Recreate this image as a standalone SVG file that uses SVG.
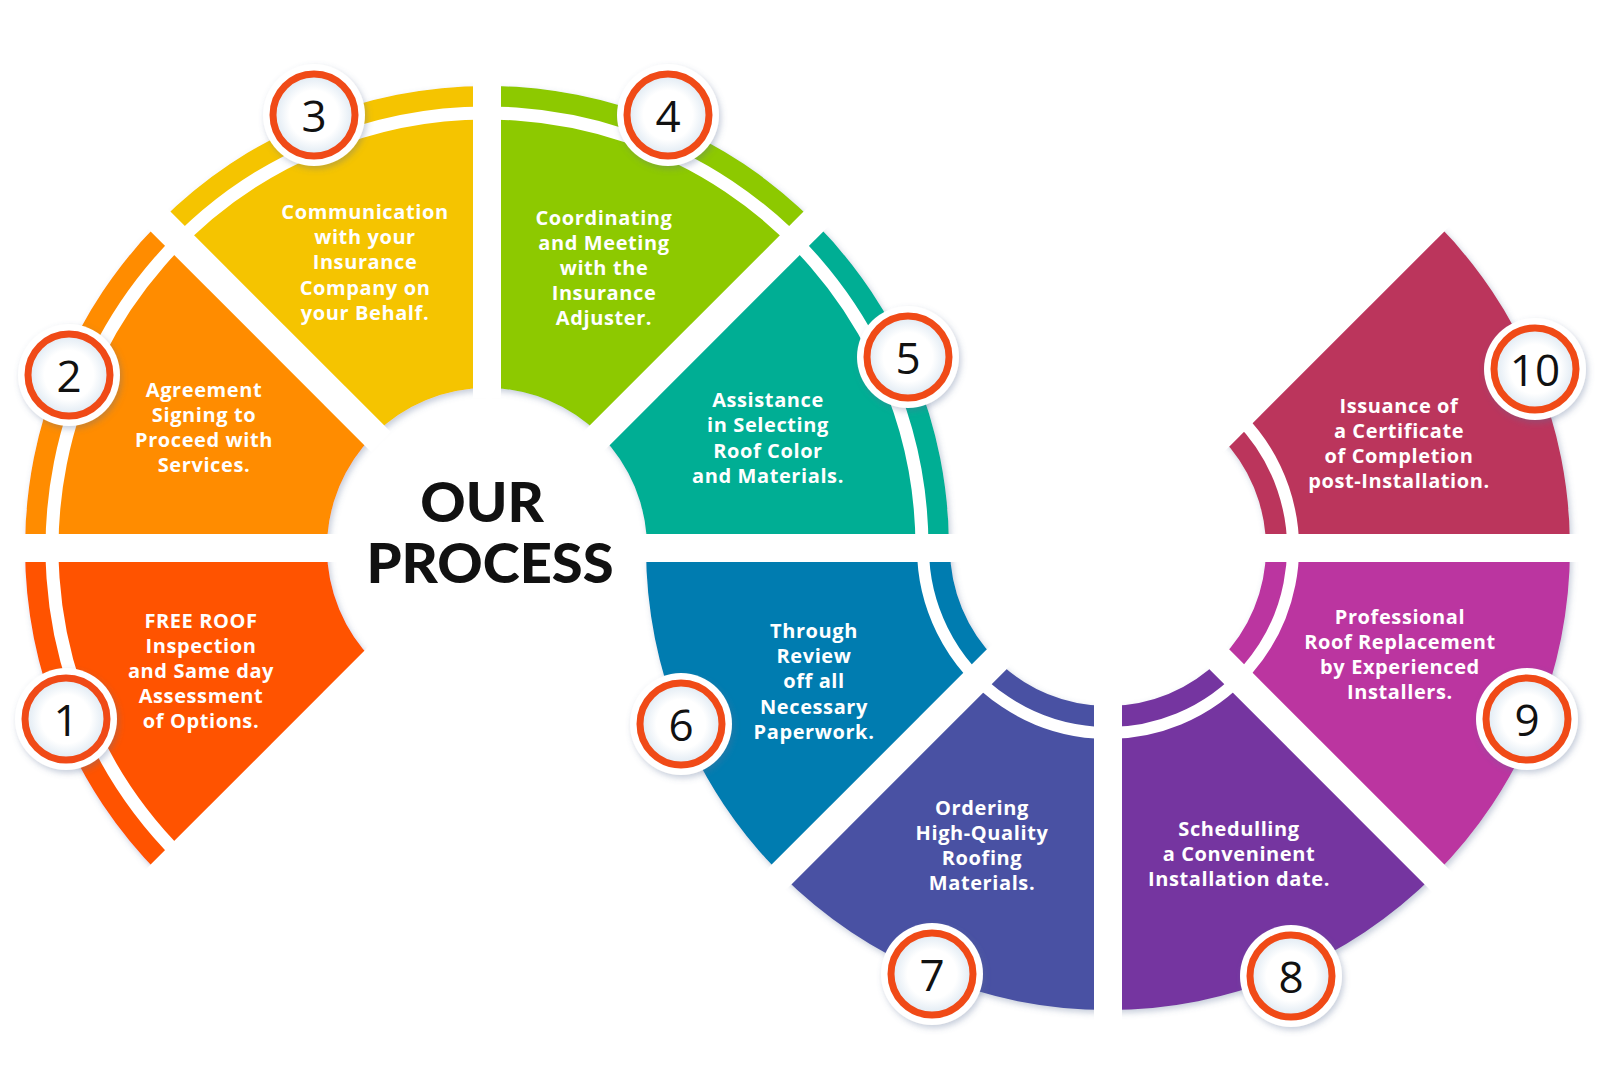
<svg xmlns="http://www.w3.org/2000/svg" width="1600" height="1078" viewBox="0 0 1600 1078">
<defs>
<filter id="sh" x="-20%" y="-20%" width="140%" height="140%"><feDropShadow dx="2" dy="3" stdDeviation="3" flood-color="#5a6f95" flood-opacity="0.35"/></filter>
<radialGradient id="cg" cx="0.5" cy="0.5" r="0.5"><stop offset="0.6" stop-color="#ffffff"/><stop offset="1" stop-color="#dde8f2"/></radialGradient>
</defs>
<style>
.t{font-family:"Open Sans","Liberation Sans",sans-serif;font-weight:700;font-size:20px;letter-spacing:0.6px;fill:#fff;text-anchor:middle;dominant-baseline:central}
.n{font-family:"Open Sans","Liberation Sans",sans-serif;font-size:44px;fill:#111;text-anchor:middle;dominant-baseline:central}
.gap{stroke:#fff;stroke-width:28;fill:none}
.band{fill:none;stroke:#fff;stroke-width:13}
.co{fill:#fff;filter:url(#sh)}
.ci{fill:url(#cg);stroke:#F04A17;stroke-width:7}
.h{font-family:"Lato","Liberation Sans",sans-serif;font-weight:900;font-size:56px;fill:#111;text-anchor:middle;dominant-baseline:central}
</style>
<rect width="1600" height="1078" fill="#fff"/>
<g id="segments" filter="url(#sh)">
<path id="s1" fill="#FF5200" d="M160.3,874.7 A462,462 0 0 1 25,548 L327,548 A160,160 0 0 0 373.9,661.1 Z"/>
<path id="s2" fill="#FF8C00" d="M25,548 A462,462 0 0 1 160.3,221.3 L373.9,434.9 A160,160 0 0 0 327,548 Z"/>
<path id="s3" fill="#F5C400" d="M160.3,221.3 A462,462 0 0 1 487,86 L487,388 A160,160 0 0 0 373.9,434.9 Z"/>
<path id="s4" fill="#8DC900" d="M487,86 A462,462 0 0 1 813.7,221.3 L600.1,434.9 A160,160 0 0 0 487,388 Z"/>
<path id="s5" fill="#00AE94" d="M813.7,221.3 A462,462 0 0 1 949,548 L647,548 A160,160 0 0 0 600.1,434.9 Z"/>
<path id="s6" fill="#007BB0" d="M781.3,874.7 A462,462 0 0 1 646,548 L950,548 A158,158 0 0 0 996.3,659.7 Z"/>
<path id="s7" fill="#4A51A3" d="M1108,1010 A462,462 0 0 1 781.3,874.7 L996.3,659.7 A158,158 0 0 0 1108,706 Z"/>
<path id="s8" fill="#7436A0" d="M1434.7,874.7 A462,462 0 0 1 1108,1010 L1108,706 A158,158 0 0 0 1219.7,659.7 Z"/>
<path id="s9" fill="#BB34A0" d="M1570,548 A462,462 0 0 1 1434.7,874.7 L1219.7,659.7 A158,158 0 0 0 1266,548 Z"/>
<path id="s10" fill="#BB355B" d="M1434.7,221.3 A462,462 0 0 1 1570,548 L1266,548 A158,158 0 0 0 1219.7,436.3 Z"/>
</g>
<g id="connectors">
<path class="band" d="M179.4,855.6 A435,435 0 1 1 922,548"/>
<path class="band" style="stroke-width:12" d="M1238.8,417.2 A185,185 0 1 1 923,548"/>
<line class="gap" x1="381" y1="654" x2="151" y2="884"/>
<line class="gap" x1="337" y1="548" x2="8" y2="548"/>
<line class="gap" x1="381" y1="442" x2="151" y2="212"/>
<line class="gap" x1="487" y1="398" x2="487" y2="70"/>
<line class="gap" x1="593" y1="442" x2="823" y2="212"/>
<line class="gap" x1="637" y1="548" x2="1592" y2="548"/>
<line class="gap" x1="1214" y1="654" x2="1444" y2="884"/>
<line class="gap" x1="1108" y1="698" x2="1108" y2="1025"/>
<line class="gap" x1="1002" y1="654" x2="772" y2="884"/>
<line class="gap" x1="1214" y1="442" x2="1444" y2="212"/>
</g>
<g id="title">
<text class="h" x="482" y="500">OUR</text>
<text class="h" x="490" y="561">PROCESS</text>
</g>
<g id="node1"><text class="t"><tspan x="201" y="620">FREE ROOF</tspan><tspan x="201" y="645">Inspection</tspan><tspan x="201" y="670">and Same day</tspan><tspan x="201" y="695">Assessment</tspan><tspan x="201" y="720">of Options.</tspan></text>
<circle class="co" cx="66" cy="719" r="51"/><circle class="ci" cx="66" cy="719" r="41"/><text class="n" x="66" y="719">1</text></g>
<g id="node2"><text class="t"><tspan x="204" y="389">Agreement</tspan><tspan x="204" y="414">Signing to</tspan><tspan x="204" y="439">Proceed with</tspan><tspan x="204" y="464">Services.</tspan></text>
<circle class="co" cx="69" cy="375" r="51"/><circle class="ci" cx="69" cy="375" r="41"/><text class="n" x="69" y="375">2</text></g>
<g id="node3"><text class="t"><tspan x="365" y="211">Communication</tspan><tspan x="365" y="236">with your</tspan><tspan x="365" y="261">Insurance</tspan><tspan x="365" y="287">Company on</tspan><tspan x="365" y="312">your Behalf.</tspan></text>
<circle class="co" cx="314" cy="115" r="51"/><circle class="ci" cx="314" cy="115" r="41"/><text class="n" x="314" y="115">3</text></g>
<g id="node4"><text class="t"><tspan x="604" y="217">Coordinating</tspan><tspan x="604" y="242">and Meeting</tspan><tspan x="604" y="267">with the</tspan><tspan x="604" y="292">Insurance</tspan><tspan x="604" y="317">Adjuster.</tspan></text>
<circle class="co" cx="668" cy="115" r="51"/><circle class="ci" cx="668" cy="115" r="41"/><text class="n" x="668" y="115">4</text></g>
<g id="node5"><text class="t"><tspan x="768" y="399">Assistance</tspan><tspan x="768" y="424">in Selecting</tspan><tspan x="768" y="450">Roof Color</tspan><tspan x="768" y="475">and Materials.</tspan></text>
<circle class="co" cx="908" cy="357" r="51"/><circle class="ci" cx="908" cy="357" r="41"/><text class="n" x="908" y="357">5</text></g>
<g id="node6"><text class="t"><tspan x="814" y="630">Through</tspan><tspan x="814" y="655">Review</tspan><tspan x="814" y="680">off all</tspan><tspan x="814" y="706">Necessary</tspan><tspan x="814" y="731">Paperwork.</tspan></text>
<circle class="co" cx="681" cy="724" r="51"/><circle class="ci" cx="681" cy="724" r="41"/><text class="n" x="681" y="724">6</text></g>
<g id="node7"><text class="t"><tspan x="982" y="807">Ordering</tspan><tspan x="982" y="832">High-Quality</tspan><tspan x="982" y="857">Roofing</tspan><tspan x="982" y="882">Materials.</tspan></text>
<circle class="co" cx="932" cy="974" r="51"/><circle class="ci" cx="932" cy="974" r="41"/><text class="n" x="932" y="974">7</text></g>
<g id="node8"><text class="t"><tspan x="1239" y="828">Schedulling</tspan><tspan x="1239" y="853">a Conveninent</tspan><tspan x="1239" y="878">Installation date.</tspan></text>
<circle class="co" cx="1291" cy="976" r="51"/><circle class="ci" cx="1291" cy="976" r="41"/><text class="n" x="1291" y="976">8</text></g>
<g id="node9"><text class="t"><tspan x="1400" y="616">Professional</tspan><tspan x="1400" y="641">Roof Replacement</tspan><tspan x="1400" y="666">by Experienced</tspan><tspan x="1400" y="691">Installers.</tspan></text>
<circle class="co" cx="1527" cy="719" r="51"/><circle class="ci" cx="1527" cy="719" r="41"/><text class="n" x="1527" y="719">9</text></g>
<g id="node10"><text class="t"><tspan x="1399" y="405">Issuance of</tspan><tspan x="1399" y="430">a Certificate</tspan><tspan x="1399" y="455">of Completion</tspan><tspan x="1399" y="480">post-Installation.</tspan></text>
<circle class="co" cx="1535" cy="369" r="51"/><circle class="ci" cx="1535" cy="369" r="41"/><text class="n" x="1535" y="369">10</text></g>
</svg>
